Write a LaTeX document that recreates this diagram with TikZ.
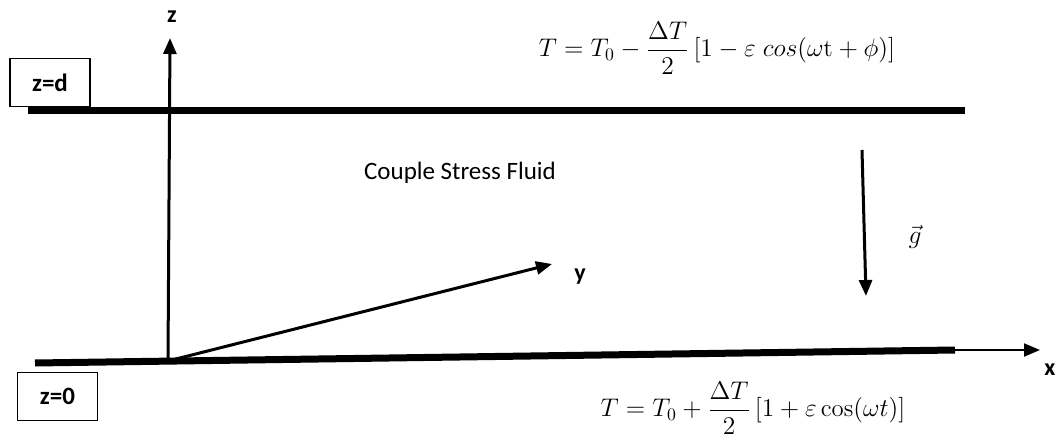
\documentclass[tikz,border=0pt]{standalone}
\usepackage{fontspec}
\newfontfamily\calibri{Carlito}
\usetikzlibrary{arrows.meta}

\tikzset{
  plate/.style = {line width=3.5pt},
  axis/.style = {line width=1.5pt,-{Triangle[length=8pt,width=6.5pt]}},
  tagbox/.style = {draw,line width=0.6pt,minimum width=40pt,minimum height=24pt,
                   font=\calibri\bfseries\fontsize{12.5}{14}\selectfont},
  axname/.style = {font=\calibri\bfseries\fontsize{12}{14}\selectfont},
  formula/.style = {font=\fontsize{14}{16}\selectfont,transform shape,scale=0.885}
}

\begin{document}
\begin{tikzpicture}[x=0.5pt,y=-0.5pt]
      \useasboundingbox (0,0) rectangle (1057,445);

      % Plates
      \coordinate (topL) at (28,110);
      \coordinate (topR) at (965,110);
      \coordinate (botL) at (35,363);
      \coordinate (botR) at (955,350);
      \draw[plate] (topL) -- (topR);
      \draw[plate] (botL) -- (botR);

      % Axes
      \coordinate (origin) at (168,361);
      \coordinate (xend) at (1040,350);
      \coordinate (zend) at (170,38);
      \coordinate (yend) at (552,264);
      \draw[line width=1pt,-{Triangle[length=8pt,width=6.5pt]}] (botR) -- (xend);
      \draw[axis] (origin) -- (zend);
      \draw[axis] (origin) -- (yend);
      \node[axname] (xname) at (1050,370) {x};
      \node[axname] (yname) at (580,277) {y};
      \node[axname] (zname) at (172,17) {z};

      % Gravity
      \coordinate (gtop) at (862,150);
      \coordinate (gbot) at (866,296);
      \draw[axis] (gtop) -- (gbot);
      \node[formula] (gname) at (915,237) {$\vec{g}$};

      % Labels
      \node[tagbox] (zd) at (50,82.5) {z=d};
      \node[tagbox] (zzero) at (57.5,396.5) {z=0};
      \node[font=\calibri\fontsize{12.5}{15}\selectfont] (fluid) at (460,173) {Couple Stress Fluid};

      % Boundary temperatures
      \node[formula] (Ttop) at (717,48)
        {$\displaystyle T = T_0 - \frac{\Delta T}{2}\,[1 - \varepsilon\; cos(\omega\mathrm{t} + \phi)]$};
      \node[formula] (Tbot) at (753,408)
        {$\displaystyle T = T_0 + \frac{\Delta T}{2}\,[1 + \varepsilon\cos(\omega t)]$};
\end{tikzpicture}
\end{document}
